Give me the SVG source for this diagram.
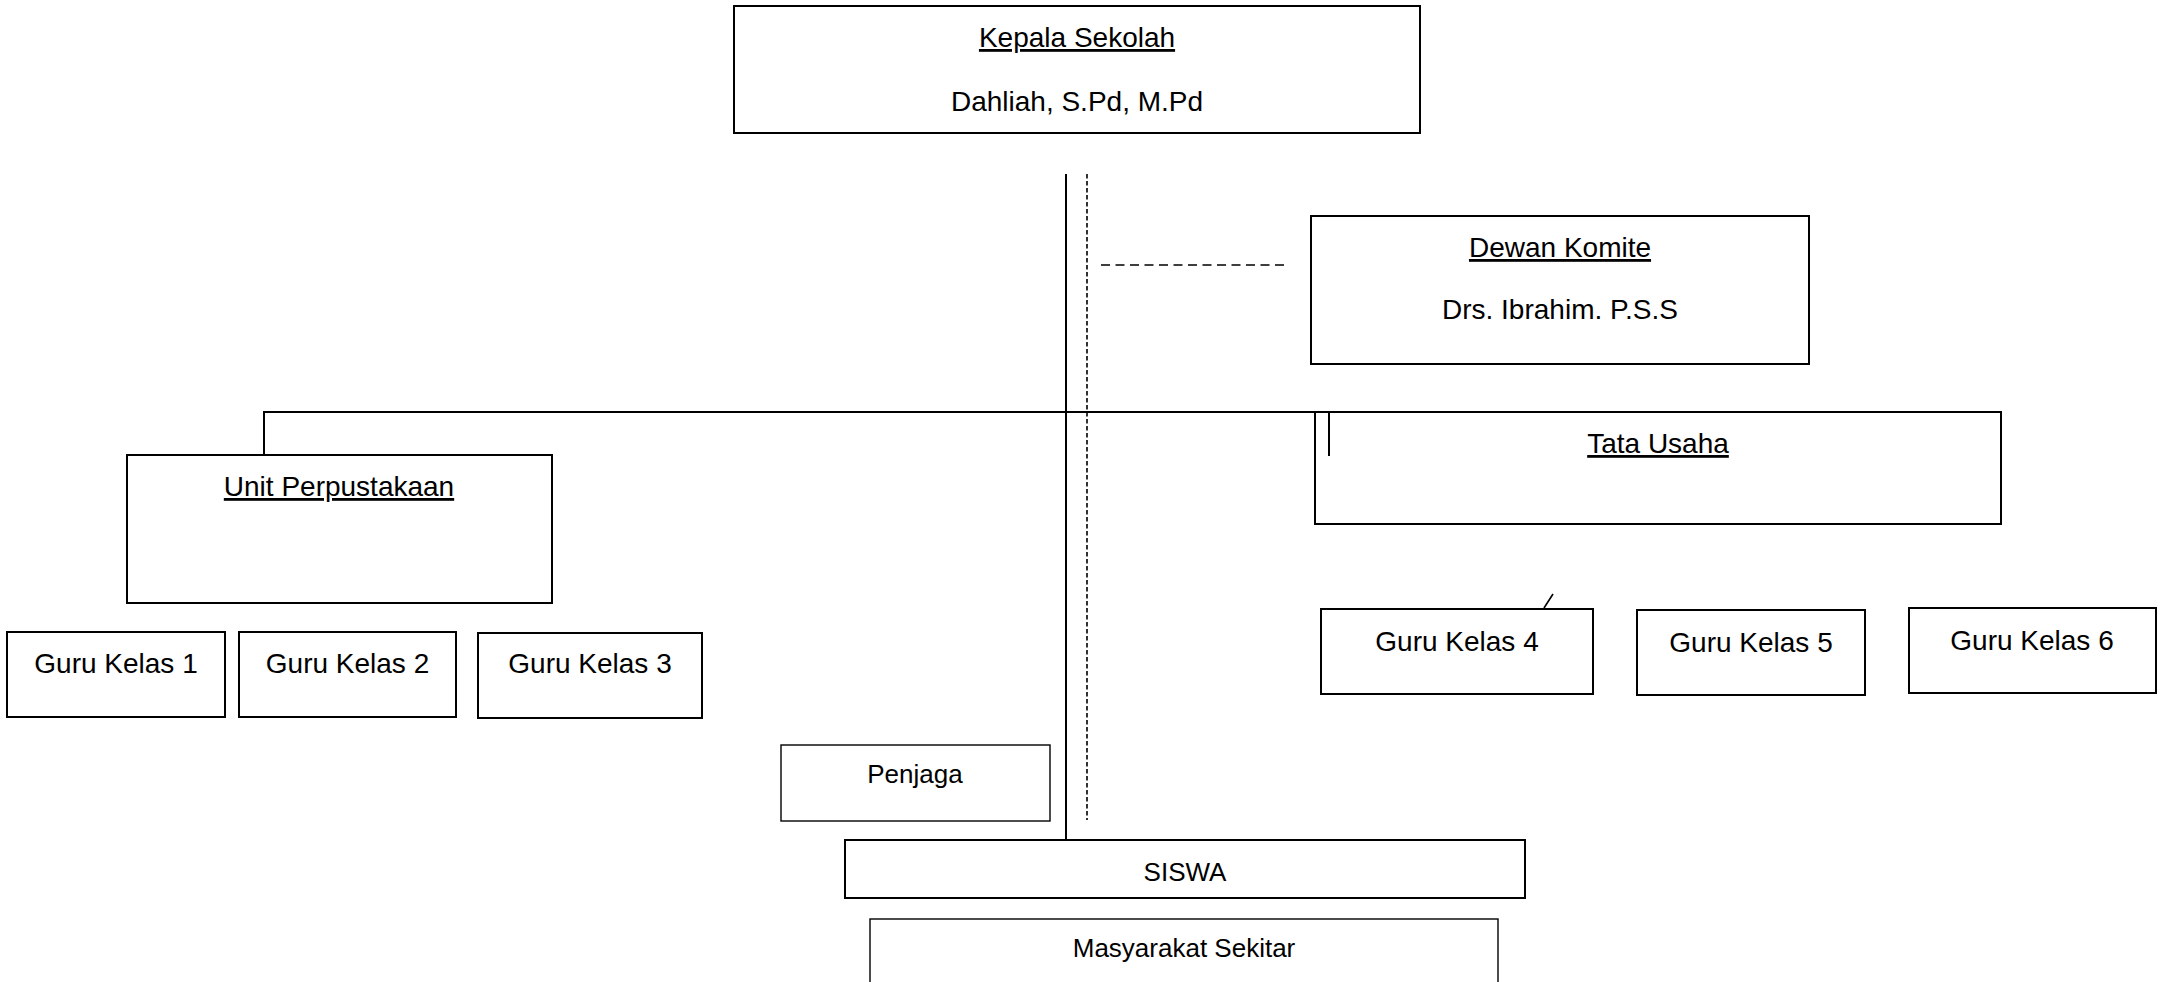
<svg xmlns="http://www.w3.org/2000/svg" width="2168" height="982" viewBox="0 0 2168 982">
<style>
.box{fill:#fff;stroke:#000;stroke-width:2}
.thin{fill:#fff;stroke:#000;stroke-width:1.4}
.t{font-family:"Liberation Sans",Arial,sans-serif;font-size:28px;fill:#000;text-anchor:middle}
.s{font-size:26px}
.u{text-decoration:underline}
.ln{stroke:#000;stroke-width:2;fill:none}
.dash{stroke:#000;stroke-width:1.6;fill:none}
</style>
<rect width="2168" height="982" fill="#fff"/>
<g id="kepala">
<rect class="box" x="734" y="6" width="686" height="127"/>
<text class="t u" x="1077" y="47">Kepala Sekolah</text>
<text class="t" x="1077" y="111">Dahliah, S.Pd, M.Pd</text>
</g>
<g id="dewan">
<rect class="box" x="1311" y="216" width="498" height="148"/>
<text class="t u" x="1560" y="257">Dewan Komite</text>
<text class="t" x="1560" y="319">Drs. Ibrahim. P.S.S</text>
</g>
<g id="tata">
<rect class="box" x="1315" y="412" width="686" height="112"/>
<text class="t u" x="1658" y="453">Tata Usaha</text>
</g>
<g id="unit">
<rect class="box" x="127" y="455" width="425" height="148"/>
<text class="t u" x="339" y="496">Unit Perpustakaan</text>
</g>
<g id="guru1">
<rect class="box" x="7" y="632" width="218" height="85"/>
<text class="t" x="116" y="673">Guru Kelas 1</text>
</g>
<g id="guru2">
<rect class="box" x="239" y="632" width="217" height="85"/>
<text class="t" x="347.5" y="673">Guru Kelas 2</text>
</g>
<g id="guru3">
<rect class="box" x="478" y="633" width="224" height="85"/>
<text class="t" x="590" y="673">Guru Kelas 3</text>
</g>
<g id="guru4">
<rect class="box" x="1321" y="609" width="272" height="85"/>
<text class="t" x="1457" y="651">Guru Kelas 4</text>
</g>
<g id="guru5">
<rect class="box" x="1637" y="610" width="228" height="85"/>
<text class="t" x="1751" y="652">Guru Kelas 5</text>
</g>
<g id="guru6">
<rect class="box" x="1909" y="608" width="247" height="85"/>
<text class="t" x="2032" y="650">Guru Kelas 6</text>
</g>
<g id="penjaga">
<rect class="thin" x="781" y="745" width="269" height="76"/>
<text class="t s" x="915" y="783">Penjaga</text>
</g>
<g id="siswa">
<rect class="box" x="845" y="840" width="680" height="58"/>
<text class="t s" x="1185" y="881">SISWA</text>
</g>
<g id="masyarakat">
<rect class="thin" x="870" y="919" width="628" height="80"/>
<text class="t s" x="1184" y="957">Masyarakat Sekitar</text>
</g>
<g id="connectors">
<line class="ln" x1="1066" y1="174" x2="1066" y2="840"/>
<line class="dash" x1="1087" y1="174" x2="1087" y2="820" stroke-dasharray="4.5 2.5"/>
<line class="dash" x1="1101" y1="265" x2="1289" y2="265" stroke-dasharray="9 5.5"/>
<polyline class="ln" points="264,455 264,412 1316,412"/>
<line class="ln" x1="1329" y1="412" x2="1329" y2="456"/>
<line class="dash" x1="1544" y1="608" x2="1553" y2="594"/>
</g>
</svg>
